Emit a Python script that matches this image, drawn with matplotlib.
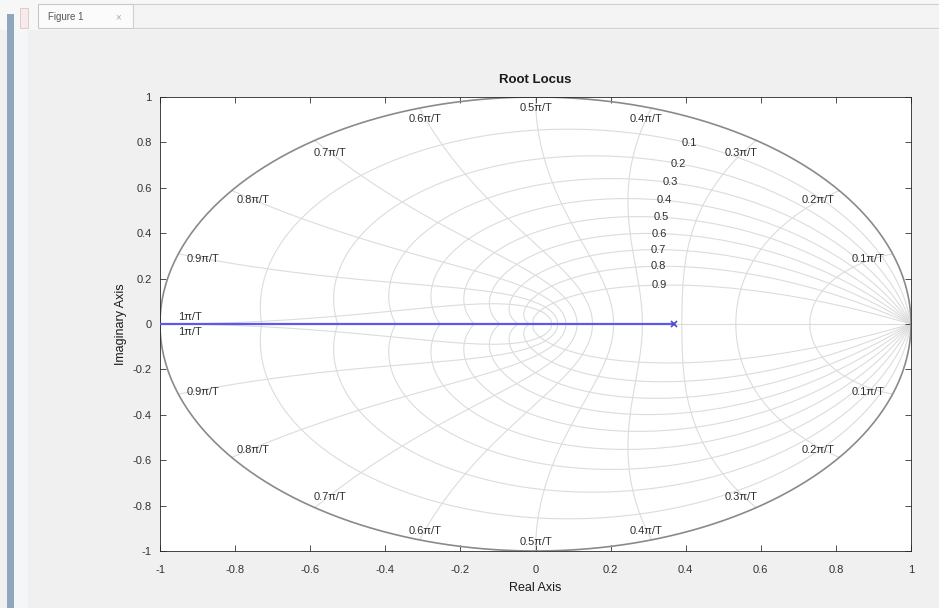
import numpy as np
import matplotlib
matplotlib.use("Agg")
import matplotlib.pyplot as plt
from matplotlib.patches import Rectangle

plt.rcParams['font.family'] = ['Liberation Sans', 'DejaVu Sans']

# ---- data ----
zeta_values = [0.1, 0.2, 0.3, 0.4, 0.5, 0.6, 0.7, 0.8, 0.9]
wn_factors = [0.1, 0.2, 0.3, 0.4, 0.5, 0.6, 0.7, 0.8, 0.9, 1.0]
wn_labels = ['0.1\u03c0/T', '0.2\u03c0/T', '0.3\u03c0/T', '0.4\u03c0/T', '0.5\u03c0/T',
             '0.6\u03c0/T', '0.7\u03c0/T', '0.8\u03c0/T', '0.9\u03c0/T', '1\u03c0/T']
locus_real = [-1.0, 0.37]
locus_imag = [0.0, 0.0]
ticks = [-1, -0.8, -0.6, -0.4, -0.2, 0, 0.2, 0.4, 0.6, 0.8, 1]
tick_labels = ['-1', '-0.8', '-0.6', '-0.4', '-0.2', '0', '0.2', '0.4', '0.6', '0.8', '1']

W, H = 939, 608
fig = plt.figure(figsize=(W / 100, H / 100), dpi=100)
fig.patch.set_facecolor('#f0f0f0')

# window chrome (tab strip and left bar)
fig.patches.append(Rectangle((0, 1 - 30 / H), 1, 30 / H, transform=fig.transFigure,
                             facecolor='#f7f7f7', edgecolor='none', zorder=0))
fig.patches.append(Rectangle((38 / W, 1 - 28 / H), 95 / W, 24 / H, transform=fig.transFigure,
                             facecolor='#fbfbfb', edgecolor='#c8c8c8', lw=0.8, zorder=1))
fig.patches.append(Rectangle((133 / W, 1 - 28 / H), 806 / W, 24 / H, transform=fig.transFigure,
                             facecolor='#f4f4f4', edgecolor='#d0d0d0', lw=0.8, zorder=1))
fig.patches.append(Rectangle((7 / W, 0), 7 / W, 1 - 14 / H, transform=fig.transFigure,
                             facecolor='#8fa6bf', edgecolor='none', zorder=1))
fig.patches.append(Rectangle((14 / W, 0), 14 / W, 1 - 30 / H, transform=fig.transFigure,
                             facecolor='#f4f6f8', edgecolor='none', zorder=1))
fig.patches.append(Rectangle((20 / W, 1 - 28 / H), 8 / W, 20 / H, transform=fig.transFigure,
                             facecolor='#f6eaea', edgecolor='#d8c8c8', lw=0.6, zorder=2))
fig.text(48 / W, 1 - 17 / H, 'Figure 1', fontsize=7, color='#555555', va='center')
fig.text(115 / W, 1 - 17 / H, '\u00d7', fontsize=7, color='#aaaaaa', va='center')

ax = fig.add_axes([160 / W, 1 - 551 / H, 751 / W, 454 / H])
ax.set_facecolor('white')
ax.set_xlim(-1, 1)
ax.set_ylim(-1, 1)

gcol = '#dcdcdc'
# constant damping curves
for z in zeta_values:
    wmax = np.pi / np.sqrt(1 - z ** 2)
    w = np.linspace(0, wmax, 400)
    s = w * (-z + 1j * np.sqrt(1 - z ** 2))
    zz = np.exp(s)
    ax.plot(zz.real, zz.imag, color=gcol, lw=0.8, zorder=1)
    ax.plot(zz.real, -zz.imag, color=gcol, lw=0.8, zorder=1)
    # label at wn ~ 0.35*pi
    sl = 1.1 * (-z + 1j * np.sqrt(1 - z ** 2))
    zl = np.exp(sl)
    ax.text(zl.real, zl.imag, f'{z:.1f}', fontsize=8, color='#303030',
            ha='center', va='center', zorder=3)

# constant natural frequency curves
for k, lab in zip(wn_factors, wn_labels):
    wn = k * np.pi
    zet = np.linspace(0, 1, 300)
    s = wn * (-zet + 1j * np.sqrt(1 - zet ** 2))
    zz = np.exp(s)
    ax.plot(zz.real, zz.imag, color=gcol, lw=0.8, zorder=1)
    ax.plot(zz.real, -zz.imag, color=gcol, lw=0.8, zorder=1)
    ang = k * np.pi
    r = 0.95 if abs(np.sin(ang)) > 0.9 else 0.93
    px, py = r * np.cos(ang), r * np.sin(ang)
    if k < 1.0:
        ax.text(px, py, lab, fontsize=8, color='#303030', ha='center', va='center', zorder=3)
        ax.text(px, -py - 0.01, lab, fontsize=8, color='#303030', ha='center', va='center', zorder=3)
    else:
        ax.text(px + 0.01, 0.01, lab, fontsize=8, color='#303030', ha='center', va='bottom', zorder=3)
        ax.text(px + 0.01, -0.015, lab, fontsize=8, color='#303030', ha='center', va='top', zorder=3)

# real axis and unit circle
ax.axhline(0, color=gcol, lw=0.8, zorder=1)
th = np.linspace(0, 2 * np.pi, 600)
ax.plot(np.cos(th), np.sin(th), color='#8a8a8a', lw=1.2, zorder=2)

# root locus branch
ax.plot(locus_real, locus_imag, color='#5b5be8', lw=1.6, zorder=4)
ax.plot([locus_real[1]], [locus_imag[1]], marker='x', color='#4a4ad0', ms=4, mew=1.2, zorder=5)

ax.set_xticks(ticks)
ax.set_xticklabels(tick_labels)
ax.set_yticks(ticks)
ax.set_yticklabels(tick_labels)
ax.tick_params(direction='in', length=4, width=0.6, colors='#333333', labelsize=8,
               top=True, right=True)
ax.tick_params(axis='x', pad=10)
ax.tick_params(axis='y', pad=6)
for sp in ax.spines.values():
    sp.set_color('#262626')
    sp.set_linewidth(0.6)

ax.set_title('Root Locus', fontsize=9.5, fontweight='bold', color='#1a1a1a', pad=10)
ax.set_xlabel('Real Axis', fontsize=9, color='#1a1a1a', labelpad=5)
ax.set_ylabel('Imaginary Axis', fontsize=9, color='#1a1a1a', labelpad=4)

fig.savefig('out.png', dpi=100, facecolor=fig.get_facecolor())
